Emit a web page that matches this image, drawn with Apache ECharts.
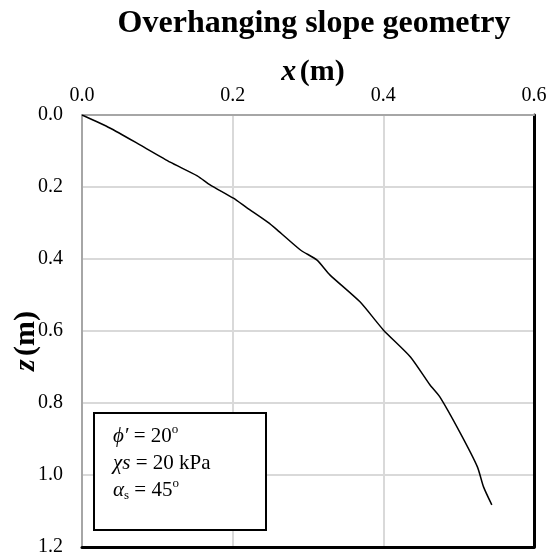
<!DOCTYPE html>
<html>
<head>
<meta charset="utf-8">
<script src="https://cdn.jsdelivr.net/npm/echarts@6/dist/echarts.min.js"></script>
<style>
html, body {margin: 0; padding: 0; background: #fff;}
#main {width: 558px; height: 558px;}
</style>
</head>
<body>
<div id="main"></div>
<script>
// slope profile, x (m) vs depth z (m)
var xVals = [0, 0.037, 0.077, 0.117, 0.153, 0.170, 0.201, 0.219, 0.246, 0.259, 0.290, 0.312,
    0.329, 0.369, 0.400, 0.436, 0.462, 0.475, 0.502, 0.525, 0.533, 0.544];
var zVals = [0, 0.036, 0.083, 0.131, 0.169, 0.194, 0.231, 0.258, 0.297, 0.319, 0.375, 0.403,
    0.444, 0.519, 0.597, 0.672, 0.750, 0.783, 0.883, 0.978, 1.033, 1.083];
var xTicks = [0, 0.2, 0.4, 0.6];
var zTicks = [0, 0.2, 0.4, 0.6, 0.8, 1.0, 1.2];

var serif = '"Liberation Serif", "DejaVu Serif", serif';

var pts = [];
for (var i = 0; i < xVals.length; i++) {
    pts.push([xVals[i], zVals[i]]);
}

var chart = echarts.init(document.getElementById('main'));

var nameRich = {
    i: {fontFamily: serif, fontStyle: 'italic', fontWeight: 'bold', fontSize: 30, color: '#000'},
    b: {fontFamily: serif, fontWeight: 'bold', fontSize: 30, color: '#000'}
};

var option = {
    backgroundColor: '#fff',
    animation: false,
    title: {
        text: 'Overhanging slope geometry',
        left: 309,
        textAlign: 'center',
        top: 3,
        textStyle: {fontFamily: serif, fontWeight: 'bold', fontSize: 32, color: '#000'}
    },
    grid: {left: 82, top: 115, width: 452, height: 432, outerBoundsMode: 'none', containLabel: false},
    xAxis: [{
        type: 'value',
        position: 'top',
        min: xTicks[0],
        max: xTicks[xTicks.length - 1],
        interval: 0.2,
        name: '{i|x} {b|(m)}',
        nameLocation: 'middle',
        nameGap: 28,
        nameMoveOverlap: false,
        nameTextStyle: {rich: nameRich, padding: [0, 0, 0, 10]},
        axisLine: {show: true, onZero: false, lineStyle: {color: '#a6a6a6', width: 2}},
        axisTick: {show: false},
        axisLabel: {
            fontFamily: serif, fontSize: 20, color: '#000', margin: 9,
            formatter: function (v) { return v.toFixed(1); }
        },
        splitLine: {show: true, lineStyle: {color: '#d9d9d9', width: 2}}
    }, {
        type: 'value',
        position: 'bottom',
        min: xTicks[0],
        max: xTicks[xTicks.length - 1],
        interval: 0.2,
        axisLine: {show: true, onZero: false, lineStyle: {color: '#000', width: 3}},
        axisTick: {show: false},
        axisLabel: {show: false},
        splitLine: {show: false}
    }],
    yAxis: [{
        type: 'value',
        inverse: true,
        position: 'left',
        min: zTicks[0],
        max: zTicks[zTicks.length - 1],
        interval: 0.2,
        name: '{i|z} {b|(m)}',
        nameLocation: 'middle',
        nameRotate: 90,
        nameGap: 41,
        nameMoveOverlap: false,
        nameTextStyle: {rich: nameRich, padding: [0, 20, 0, 0]},
        axisLine: {show: true, onZero: false, lineStyle: {color: '#a6a6a6', width: 2}},
        axisTick: {show: false},
        axisLabel: {
            fontFamily: serif, fontSize: 20, color: '#000', margin: 19,
            formatter: function (v) { return v.toFixed(1); }
        },
        splitLine: {show: true, lineStyle: {color: '#d9d9d9', width: 2}}
    }, {
        type: 'value',
        inverse: true,
        position: 'right',
        min: zTicks[0],
        max: zTicks[zTicks.length - 1],
        interval: 0.2,
        axisLine: {show: true, onZero: false, lineStyle: {color: '#000', width: 3}},
        axisTick: {show: false},
        axisLabel: {show: false},
        splitLine: {show: false}
    }],
    series: [{
        type: 'line',
        xAxisIndex: 0,
        yAxisIndex: 0,
        data: pts,
        smooth: 0.2,
        showSymbol: false,
        lineStyle: {color: '#000', width: 1.5}
    }],
    graphic: [{
        type: 'rect',
        shape: {x: 94, y: 413, width: 172, height: 117},
        style: {fill: '#fff', stroke: '#000', lineWidth: 2},
        z: 100
    }, {
        type: 'text',
        left: 113,
        top: 423,
        z: 101,
        style: {
            text: '{i|\u03d5\u2032} = 20{s|o}\n{i|\u03c7s} = 20 kPa\n{i|\u03b1}{d|s} = 45{s|o}',
            font: '21px ' + serif,
            fill: '#000',
            lineHeight: 27,
            rich: {
                i: {fontFamily: serif, fontStyle: 'italic', fontSize: 21, lineHeight: 27},
                s: {fontFamily: serif, fontSize: 13, verticalAlign: 'top', lineHeight: 27, padding: [0, 0, 10, 0]},
                d: {fontFamily: serif, fontSize: 13, lineHeight: 27, padding: [10, 0, 0, 0]}
            }
        }
    }]
};

chart.setOption(option);
</script>
</body>
</html>
